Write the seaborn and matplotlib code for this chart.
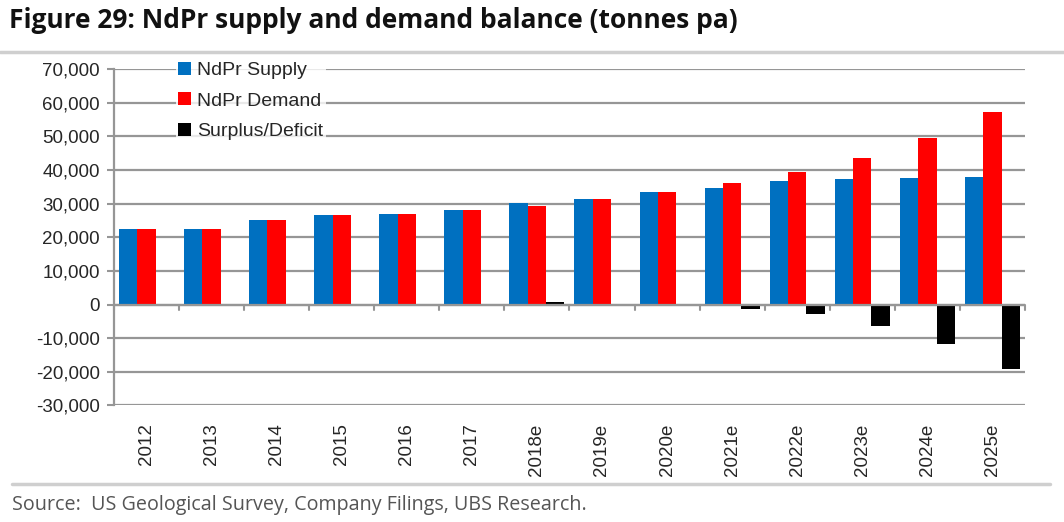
import matplotlib
matplotlib.use("Agg")
import matplotlib.pyplot as plt
import seaborn as sns
import pandas as pd
from matplotlib.lines import Line2D
from matplotlib.patches import Patch

years = ["2012", "2013", "2014", "2015", "2016", "2017", "2018e", "2019e",
         "2020e", "2021e", "2022e", "2023e", "2024e", "2025e"]
supply = [22500, 22500, 25100, 26500, 27000, 28100, 30200, 31400,
          33400, 34600, 36600, 37200, 37600, 38000]
demand = [22500, 22500, 25100, 26500, 27000, 28100, 29400, 31300,
          33400, 36000, 39300, 43600, 49400, 57200]
balance = [0, 0, 0, 0, 0, 0, 800, 100, 0, -1400, -2700, -6400, -11800, -19200]
series_names = ["NdPr Supply", "NdPr Demand", "Surplus/Deficit"]
colors = ["#0070C0", "#FF0000", "#000000"]
yticks = list(range(-30000, 70001, 10000))

df = pd.DataFrame({
    "year": years * 3,
    "value": supply + demand + balance,
    "series": [series_names[0]] * len(years) + [series_names[1]] * len(years)
              + [series_names[2]] * len(years),
})

sns.set_theme(style="white")
plt.rcParams["font.family"] = ["Liberation Sans", "DejaVu Sans"]

fig = plt.figure(figsize=(10.64, 5.22), dpi=100)
ax = fig.add_axes([0.1071, 0.2232, 0.8562, 0.6446])

sns.barplot(data=df, x="year", y="value", hue="series", palette=colors,
            hue_order=series_names, order=years, width=0.845, ax=ax,
            legend=False, saturation=1, linewidth=0, errorbar=None)

ax.set_ylim(-30000, 70000)
ax.set_xlim(-0.5, len(years) - 0.5)
ax.set_yticks(yticks)
ax.set_yticklabels([f"{v:,}" if v != 0 else "0" for v in yticks], fontsize=13.5)
ax.yaxis.grid(True, color="#969696", linewidth=1.6)
ax.set_axisbelow(True)
ax.set_xlabel("")
ax.set_ylabel("")
ax.set_xticks(range(len(years)))
ax.set_xticklabels(years, rotation=90, fontsize=13.5)
ax.tick_params(axis="x", length=0, pad=13)
ax.tick_params(axis="y", length=5, width=1.5, color="#969696", left=True,
               pad=5, direction="out")
for s in ["top", "right", "bottom"]:
    ax.spines[s].set_visible(False)
ax.spines["left"].set_color("#969696")
ax.spines["left"].set_linewidth(1.6)

# zero axis line with category-boundary ticks
ax.axhline(0, color="#969696", linewidth=1.6, zorder=1)
for b in range(len(years) + 1):
    ax.plot([b - 0.5, b - 0.5], [0, -1500], color="#969696", linewidth=1.5,
            zorder=1, clip_on=False)

handles = [Patch(facecolor=c, edgecolor="none") for c in colors]
leg = fig.legend(handles, series_names, loc="upper left",
                 bbox_to_anchor=(0.165, 0.887), frameon=True, fontsize=14,
                 handlelength=0.65, handleheight=0.65, handletextpad=0.3,
                 labelspacing=0.68, borderpad=0.15, borderaxespad=0)
leg.get_frame().set_facecolor("white")
leg.get_frame().set_edgecolor("white")
leg.get_frame().set_linewidth(0)

fig.text(0.008, 0.96, "Figure 29: NdPr supply and demand balance (tonnes pa)",
         fontsize=19, fontweight="bold", family=["Open Sans", "DejaVu Sans"],
         va="center", ha="left", color="#111111")
fig.add_artist(Line2D([0.0, 1.0], [0.9, 0.9], color="#cfcfcf", linewidth=2.5,
                      transform=fig.transFigure))
fig.add_artist(Line2D([0.011, 0.987], [0.072, 0.072], color="#cfcfcf",
                      linewidth=2.5, transform=fig.transFigure))
fig.text(0.011, 0.032, "Source:  US Geological Survey, Company Filings, UBS Research.",
         fontsize=14.2, family=["Open Sans", "DejaVu Sans"], color="#555555",
         va="center", ha="left")

fig.savefig("out.png", dpi=100)
